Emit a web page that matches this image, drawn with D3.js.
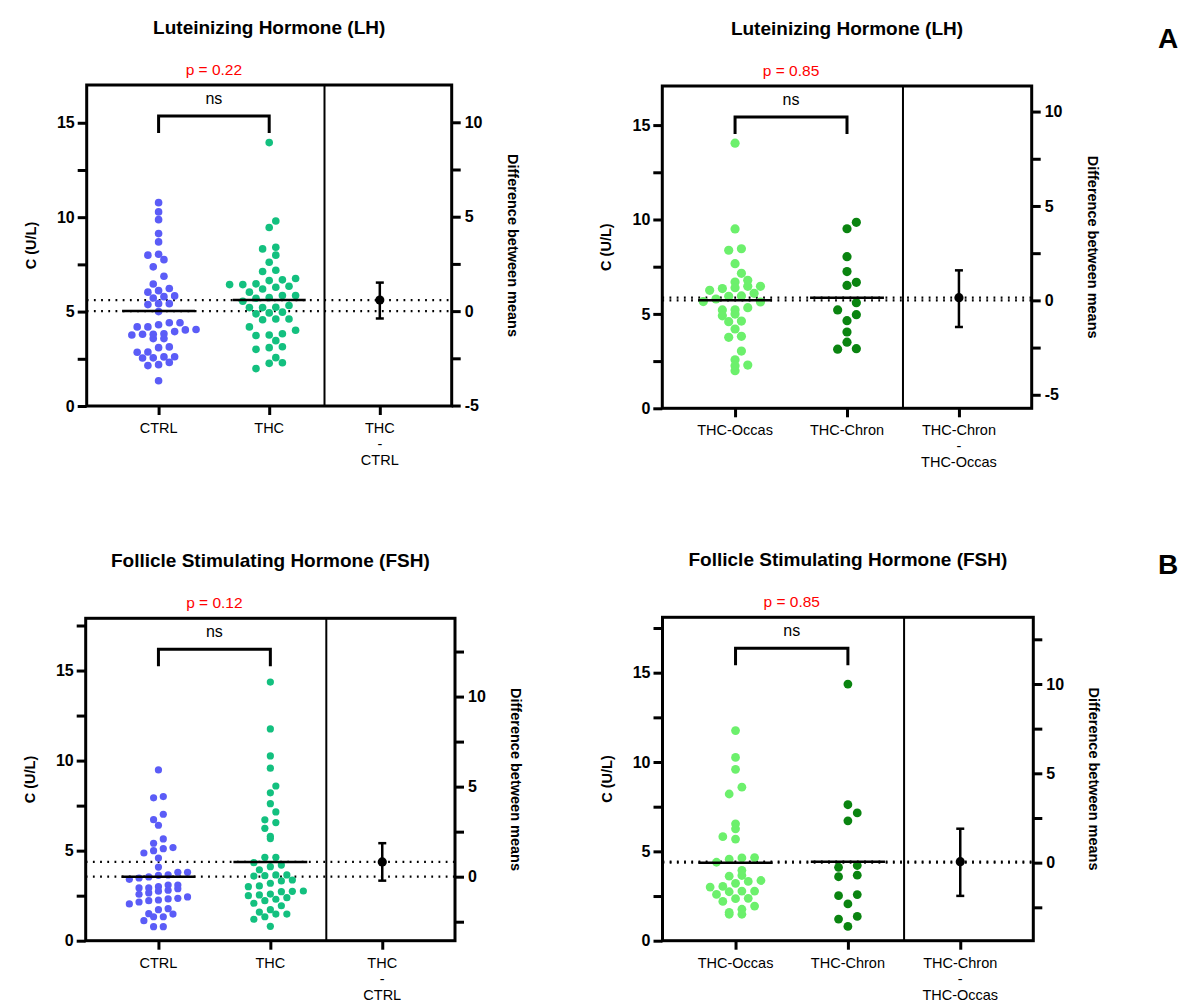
<!DOCTYPE html>
<html>
<head>
<meta charset="utf-8">
<script src="https://cdn.jsdelivr.net/npm/d3@7"></script>
<style>
  body { margin: 0; background: #fff; }
  svg { display: block; font-family: "Liberation Sans", Arial, sans-serif; }
</style>
</head>
<body>
<div id="chart"></div>
<script>
// values, C in U/L
const lhCtrl = [10.77, 10.28, 9.87, 9.13, 8.69, 7.99, 7.37, 6.87, 6.46, 5.42, 5.0, 4.41, 3.82, 2.60, 2.14, 1.34,
    8.04, 6.22, 5.83, 5.42, 4.41, 4.03, 3.57, 2.86, 2.31,
    7.75, 6.11, 5.79, 5.37, 3.94, 3.57, 3.09, 2.61, 2.19,
    5.72, 4.19, 3.80, 3.13, 2.54, 4.19, 3.76, 6.03, 4.05, 2.85, 2.55, 4.3, 3.8];
const lhThc = [13.95, 9.80, 9.45, 8.41, 8.32, 7.99, 7.61, 7.19, 7.12, 6.75, 6.64, 6.68, 6.43, 6.43, 6.47, 6.34,
    6.20, 6.29, 6.03, 5.85, 5.74, 5.85, 5.71, 5.55, 5.21, 5.32, 5.21, 5.23, 4.88, 4.97, 4.93, 4.61, 4.57,
    4.61, 4.19, 4.01, 3.83, 3.76, 3.73, 3.46, 3.00, 3.09, 3.14, 2.56, 1.98, 2.26, 2.29];
const lhOccas = [14.04, 9.50, 8.45, 8.37, 7.66, 7.15, 6.69, 6.78, 6.46, 6.46, 6.34, 6.39, 6.25, 6.09, 5.79, 5.95,
    5.93, 5.65, 5.63, 5.33, 5.21, 5.22, 4.90, 4.99, 4.62, 4.59, 4.20, 3.81, 3.76, 3.03, 2.57, 1.99, 2.26, 2.29];
const lhChron = [9.85, 9.51, 8.03, 7.24, 6.67, 6.51, 5.59, 5.21, 4.96, 4.64, 4.04, 3.50, 3.13, 3.16];

const fshCtrl = [9.48, 7.93, 8.0, 7.02, 6.72, 6.41, 5.65, 5.41, 5.11, 4.87, 5.0, 5.17, 4.59, 4.09, 3.80, 3.54,
    3.80, 3.63, 3.48, 3.41, 3.09, 2.93, 2.93, 3.0, 3.09, 2.89, 2.58, 2.65, 2.26, 2.32, 2.35, 2.22, 2.43,
    2.04, 1.72, 1.78, 1.33, 1.50, 1.33, 1.48, 1.11, 0.78, 0.78, 3.65, 2.8, 2.75, 2.15];
const fshThc = [14.36, 11.76, 10.26, 9.58, 8.59, 8.21, 7.61, 7.15, 6.56, 6.71, 6.24, 5.67, 5.80, 4.63, 4.63,
    4.33, 4.11, 3.94, 4.2, 3.65, 3.65, 3.61, 3.59, 3.37, 3.19, 3.32, 3.0, 3.04, 2.76, 2.59, 2.74, 2.5,
    2.72, 2.39, 2.54, 2.22, 2.3, 2.08, 1.94, 1.48, 1.59, 1.72, 1.33, 1.48, 1.19, 0.8];
const fshOccas = [11.76, 10.26, 9.59, 8.59, 8.21, 6.54, 6.26, 5.82, 5.69, 4.63, 4.65, 4.56, 4.39, 3.94, 3.61,
    3.65, 3.32, 3.37, 3.21, 3.04, 3.0, 2.74, 2.78, 2.78, 2.59, 2.35, 2.37, 2.2, 1.94, 1.76, 1.48, 1.59, 1.48];
const fshChron = [14.36, 7.61, 7.15, 6.71, 4.11, 4.21, 3.58, 3.67, 2.52, 2.58, 2.06, 1.36, 1.21, 0.8];

// 95% CI of the difference between means (right axis)
const diffCi = [[-0.39, 1.51], [-1.41, 1.59], [-0.22, 1.86], [-1.86, 1.90]];
const pTexts = ['p = 0.22', 'p = 0.85', 'p = 0.12', 'p = 0.85'];
const titles = ['Luteinizing Hormone (LH)', 'Follicle Stimulating Hormone (FSH)'];
const catsCtrl = [['CTRL'], ['THC'], ['THC', '-', 'CTRL']];
const catsUse = [['THC-Occas'], ['THC-Chron'], ['THC-Chron', '-', 'THC-Occas']];

const blue = '#5b5cf7', green = '#13c07f', lightGreen = '#6cf06c', darkGreen = '#0a8410';

const panels = [
    { title: titles[0], a: lhCtrl, b: lhThc, cats: catsCtrl, p: pTexts[0], ci: diffCi[0], colors: [blue, green],
      x0: 86.7, x1: 451.7, y0: 85, y1: 406, yMax: 17, r: 3.8, steps: [10.7, 13.2] },
    { title: titles[0], a: lhOccas, b: lhChron, cats: catsUse, p: pTexts[1], ci: diffCi[1], colors: [lightGreen, darkGreen],
      x0: 662.3, x1: 1031.7, y0: 86, y1: 408.3, yMax: 17.07, r: 4.6, steps: [12.7, 18.7] },
    { title: titles[1], a: fshCtrl, b: fshThc, cats: catsCtrl, p: pTexts[2], ci: diffCi[2], colors: [blue, green],
      x0: 85.7, x1: 455, y0: 618.3, y1: 940.7, yMax: 17.9, r: 3.6, steps: [9.7, 11] },
    { title: titles[1], a: fshOccas, b: fshChron, cats: catsUse, p: pTexts[3], ci: diffCi[3], colors: [lightGreen, darkGreen],
      x0: 662.5, x1: 1033.3, y0: 617.3, y1: 940.7, yMax: 18.1, r: 4.4, steps: [12.7, 18.7] },
];

const svg = d3.select('#chart').append('svg')
    .attr('width', 1183)
    .attr('height', 1004);

// column scatter: bin values into pixel rows, spread each row symmetrically,
// shift a row by half a step when it would sit on top of the row below
function swarm(values, y, r, step) {
    const pts = values.map((v) => ({ v, py: y(v) }));
    const placed = [];
    const rows = d3.groups(pts, (d) => Math.round(d.py / 8.5)).sort((a, b) => b[0] - a[0]);
    rows.forEach(([, row]) => {
        row.sort((p, q) => p.v - q.v);
        const off = (i, s) => (i - (row.length - 1) / 2) * step + s;
        const hits = (s) => d3.sum(row, (d, i) =>
            placed.filter((q) => Math.hypot(q.dx - off(i, s), q.py - d.py) < 2 * r).length);
        const shift = [0, step / 2, -step / 2].reduce((best, s) => (hits(s) < hits(best) ? s : best), 0);
        row.forEach((d, i) => { d.dx = off(i, shift); placed.push(d); });
    });
    return pts;
}

function drawPanel(cfg) {
    const g = svg.append('g');
    const x = d3.scaleLinear().domain([-0.65, 2.65]).range([cfg.x0, cfg.x1]);
    const y = d3.scaleLinear().domain([0, cfg.yMax]).range([cfg.y1, cfg.y0]);
    const meanA = d3.mean(cfg.a);
    const meanB = d3.mean(cfg.b);
    const yR = d3.scaleLinear().domain([-meanA, cfg.yMax - meanA]).range([cfg.y1, cfg.y0]);

    // dotted reference lines at both means
    g.selectAll('line.ref')
        .data([meanA, meanB])
        .join('line')
        .attr('class', 'ref')
        .attr('x1', cfg.x0).attr('x2', cfg.x1)
        .attr('y1', (d) => y(d)).attr('y2', (d) => y(d))
        .attr('stroke', '#000')
        .attr('stroke-width', 2.2)
        .attr('stroke-dasharray', '1.8 5.4');

    // dots
    [cfg.a, cfg.b].forEach((vals, i) => {
        g.append('g').selectAll('circle')
            .data(swarm(vals, y, cfg.r, cfg.steps[i]))
            .join('circle')
            .attr('cx', (d) => x(i) + d.dx)
            .attr('cy', (d) => d.py)
            .attr('r', cfg.r)
            .attr('fill', cfg.colors[i]);
    });

    // mean lines
    g.selectAll('line.mean')
        .data([meanA, meanB])
        .join('line')
        .attr('class', 'mean')
        .attr('x1', (d, i) => x(i - 0.33)).attr('x2', (d, i) => x(i + 0.33))
        .attr('y1', (d) => y(d)).attr('y2', (d) => y(d))
        .attr('stroke', '#000')
        .attr('stroke-width', 2.5);

    // difference between means with CI
    const xd = x(2);
    g.append('line')
        .attr('x1', xd).attr('x2', xd)
        .attr('y1', yR(cfg.ci[0])).attr('y2', yR(cfg.ci[1]))
        .attr('stroke', '#000').attr('stroke-width', 2.5);
    g.selectAll('line.cap')
        .data(cfg.ci)
        .join('line')
        .attr('class', 'cap')
        .attr('x1', xd - 4).attr('x2', xd + 4)
        .attr('y1', (d) => yR(d)).attr('y2', (d) => yR(d))
        .attr('stroke', '#000').attr('stroke-width', 2.5);
    g.append('circle')
        .attr('cx', xd).attr('cy', yR(meanB - meanA))
        .attr('r', 4.6).attr('fill', '#000');

    // frame and divider
    g.append('line')
        .attr('x1', x(1.5)).attr('x2', x(1.5))
        .attr('y1', cfg.y0).attr('y2', cfg.y1)
        .attr('stroke', '#000').attr('stroke-width', 2);
    g.append('rect')
        .attr('x', cfg.x0).attr('y', cfg.y0)
        .attr('width', cfg.x1 - cfg.x0).attr('height', cfg.y1 - cfg.y0)
        .attr('fill', 'none').attr('stroke', '#000').attr('stroke-width', 3);

    // axes
    const leftTicks = d3.range(0, cfg.yMax + 0.001, 2.5);
    const yAxis = g.append('g')
        .attr('transform', `translate(${cfg.x0},0)`)
        .call(d3.axisLeft(y).tickValues(leftTicks)
            .tickFormat((d) => (d % 5 === 0 ? d : ''))
            .tickSize(9).tickPadding(3));

    const rightTicks = d3.range(-10, 20, 2.5).filter((d) => d >= yR.domain()[0] && d <= yR.domain()[1]);
    const rAxis = g.append('g')
        .attr('transform', `translate(${cfg.x1},0)`)
        .call(d3.axisRight(yR).tickValues(rightTicks)
            .tickFormat((d) => (d % 5 === 0 ? d : ''))
            .tickSize(9).tickPadding(4));

    const xAxis = g.append('g')
        .attr('transform', `translate(0,${cfg.y1})`)
        .call(d3.axisBottom(x).tickValues([0, 1, 2]).tickFormat('').tickSize(9));

    [yAxis, rAxis, xAxis].forEach((ax) => {
        ax.select('.domain').remove();
        ax.selectAll('.tick line').attr('stroke-width', 3);
    });
    [yAxis, rAxis].forEach((ax) => {
        ax.selectAll('.tick text')
            .attr('font-family', '"Liberation Sans", Arial, sans-serif')
            .attr('font-size', 16).attr('font-weight', 'bold').attr('fill', '#000');
    });

    // category labels (multi-line)
    cfg.cats.forEach((lines, i) => {
        const t = g.append('text')
            .attr('x', x(i)).attr('y', cfg.y1 + 27)
            .attr('text-anchor', 'middle')
            .attr('font-size', 14.5);
        lines.forEach((s, j) => {
            t.append('tspan').attr('x', x(i)).attr('dy', j === 0 ? 0 : 16).text(s);
        });
    });

    // axis titles
    g.append('text')
        .attr('transform', `translate(${cfg.x0 - 51},${(cfg.y0 + cfg.y1) / 2}) rotate(-90)`)
        .attr('text-anchor', 'middle')
        .attr('font-size', 14.5).attr('font-weight', 'bold')
        .text('C (U/L)');
    g.append('text')
        .attr('transform', `translate(${cfg.x1 + 56},${(cfg.y0 + cfg.y1) / 2}) rotate(90)`)
        .attr('text-anchor', 'middle')
        .attr('font-size', 14.5).attr('font-weight', 'bold')
        .text('Difference between means');

    // title, p value, bracket
    g.append('text')
        .attr('x', (cfg.x0 + cfg.x1) / 2).attr('y', cfg.y0 - 51)
        .attr('text-anchor', 'middle')
        .attr('font-size', 19).attr('font-weight', 'bold')
        .text(cfg.title);
    const xm = (x(0) + x(1)) / 2;
    g.append('text')
        .attr('x', xm).attr('y', cfg.y0 - 10)
        .attr('text-anchor', 'middle')
        .attr('font-size', 15.5).attr('fill', '#ff0000')
        .text(cfg.p);
    g.append('text')
        .attr('x', xm).attr('y', cfg.y0 + 19)
        .attr('text-anchor', 'middle')
        .attr('font-size', 16)
        .text('ns');
    g.append('path')
        .attr('d', d3.line()([[x(0), cfg.y0 + 48], [x(0), cfg.y0 + 31], [x(1), cfg.y0 + 31], [x(1), cfg.y0 + 48]]))
        .attr('fill', 'none').attr('stroke', '#000').attr('stroke-width', 3);
}

panels.forEach(drawPanel);

// panel letters
svg.selectAll('text.letter')
    .data([['A', 48], ['B', 574]])
    .join('text')
    .attr('class', 'letter')
    .attr('x', 1168).attr('y', (d) => d[1])
    .attr('text-anchor', 'middle')
    .attr('font-size', 28).attr('font-weight', 'bold')
    .text((d) => d[0]);
</script>
</body>
</html>
